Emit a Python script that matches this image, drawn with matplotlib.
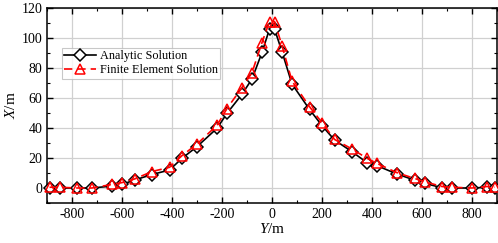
import matplotlib
matplotlib.use("Agg")
import matplotlib.pyplot as plt
from matplotlib.ticker import MultipleLocator

plt.rcParams["font.family"] = ["Liberation Serif", "DejaVu Serif"]
plt.rcParams["mathtext.fontset"] = "custom"
plt.rcParams["mathtext.it"] = "Liberation Serif:italic"
plt.rcParams["mathtext.rm"] = "Liberation Serif"
plt.rcParams["axes.unicode_minus"] = False

# distance along Y (m)
y_pos = [-890, -850, -780, -720, -640, -600, -550, -480, -410, -360, -300,
         -220, -180, -120, -80, -40, -10, 10, 40, 80, 150, 200, 250, 320,
         380, 420, 500, 570, 610, 680, 720, 800, 860, 890]
analytic = [0, 0, 0, 0, 1.3, 2.4, 5.3, 9, 12, 19.8, 27.6,
            39.8, 49.8, 62.5, 72.7, 90.4, 106, 106, 90.9, 69.3, 52.4, 41.6, 32, 24.2,
            16.9, 14.9, 9.3, 5.3, 3.1, 0.2, 0, 0, 0.5, 0]
fem = [0.5, 0.5, 0, 0, 2.4, 3.6, 6, 11, 13.8, 21.6, 29.3,
       41.8, 53, 67, 76.9, 97, 111, 111, 94.9, 71.3, 54.2, 43.6, 32.4, 26,
       19.8, 16.4, 10.2, 6.4, 4.2, 1, 0.5, 0, 1, 0.5]

fig = plt.figure(figsize=(4.98, 2.43), dpi=100)
ax = fig.add_axes([0.0944, 0.1646, 0.9036, 0.8024])

ax.plot(y_pos, analytic, color="black", linewidth=1.2, marker="D",
        markersize=6.2, markerfacecolor="white", markeredgecolor="black",
        markeredgewidth=1.1, label="Analytic Solution", zorder=3, clip_on=False)
ax.plot(y_pos, fem, color="red", linewidth=1.2, linestyle=(0, (5, 3)),
        marker="^", markersize=7.5, markerfacecolor="none", markeredgecolor="red",
        markeredgewidth=1.1, label="Finite Element Solution", zorder=4, clip_on=False)

ax.set_xlim(-900, 900)
ax.set_ylim(-10, 120)
ax.xaxis.set_major_locator(MultipleLocator(200))
ax.xaxis.set_minor_locator(MultipleLocator(100))
ax.yaxis.set_major_locator(MultipleLocator(20))
ax.yaxis.set_minor_locator(MultipleLocator(10))
ax.tick_params(which="both", direction="in", top=True, right=True, labelsize=10)
ax.tick_params(which="major", length=4, width=1)
ax.tick_params(which="minor", length=2.5, width=0.8)
ax.grid(True, which="major", color="#d0d0d0", linewidth=0.9)
ax.set_axisbelow(True)
for s in ax.spines.values():
    s.set_linewidth(1.1)

ax.set_xlabel("$Y$/m", fontsize=11, labelpad=1)
ax.set_ylabel("$X$/m", fontsize=11, labelpad=2)

leg = ax.legend(loc="upper left", bbox_to_anchor=(0.033, 0.795), fontsize=8.8,
                frameon=True, fancybox=False, edgecolor="#bbbbbb",
                handlelength=2.6, borderpad=0.2, labelspacing=0.15,
                handletextpad=0.3, borderaxespad=0)
leg.get_frame().set_linewidth(0.8)

fig.savefig("out.png", dpi=100)
